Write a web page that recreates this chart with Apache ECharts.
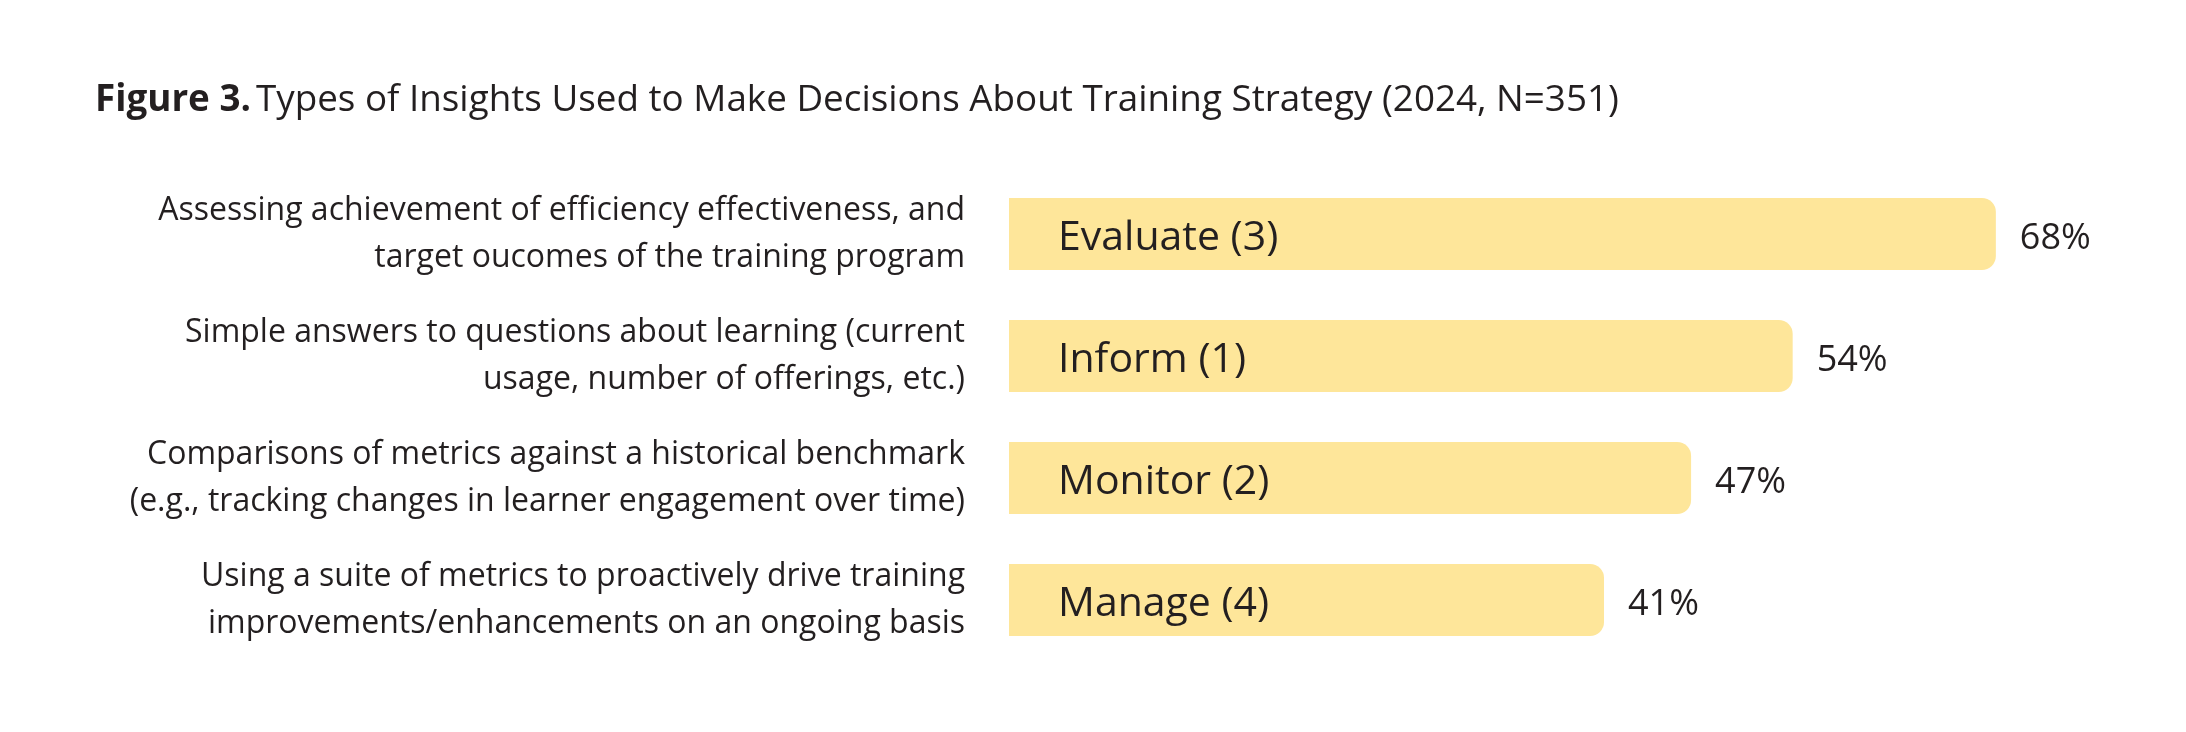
<!DOCTYPE html>
<html>
<head>
<meta charset="utf-8">
<script src="https://cdn.jsdelivr.net/npm/echarts@6/dist/echarts.min.js"></script>
<style>
html,body{margin:0;padding:0;background:#fff;}
#chart{width:2186px;height:732px;}
</style>
</head>
<body>
<div id="chart"></div>
<script>
var categories = [
  "Assessing achievement of efficiency effectiveness, and\ntarget oucomes of the training program",
  "Simple answers to questions about learning (current\nusage, number of offerings, etc.)",
  "Comparisons of metrics against a historical benchmark\n(e.g., tracking changes in learner engagement over time)",
  "Using a suite of metrics to proactively drive training\nimprovements/enhancements on an ongoing basis"
];
var barNames = ["Evaluate (3)", "Inform (1)", "Monitor (2)", "Manage (4)"];
var values = [68, 54, 47, 41];

var FONT = "Open Sans";
var TXT = "#231f20";
var chart = echarts.init(document.getElementById('chart'));
chart.setOption({
  backgroundColor: '#ffffff',
  animation: false,
  title: {
    left: 90, top: 77,
    text: '{b|Figure 3.} {n|Types of Insights Used to Make Decisions About Training Strategy (2024, N=351)}',
    textStyle: {
      rich: {
        b: {fontFamily: FONT, fontWeight: 'bold', fontSize: 36.8, color: TXT},
        n: {fontFamily: FONT, fontWeight: 'normal', fontSize: 36.8, color: TXT}
      }
    }
  },
  grid: {left: 1009, right: 16, top: 173, bottom: 71},
  xAxis: {type: 'value', min: 0, max: 80, show: false},
  yAxis: {
    type: 'category', data: categories, inverse: true,
    axisLine: {show: false}, axisTick: {show: false},
    axisLabel: {
      margin: 44, align: 'right', fontFamily: FONT, fontSize: 32,
      lineHeight: 47, color: TXT, padding: [6, 0, 0, 0]
    }
  },
  series: [
    {
      type: 'bar', data: values, barWidth: 72,
      itemStyle: {color: '#fee69a', borderRadius: [0, 14, 14, 0]},
      label: {
        show: true, position: 'insideLeft', distance: 49, offset: [0, 4],
        formatter: function (p) { return barNames[p.dataIndex]; },
        fontFamily: FONT, fontSize: 41, fontWeight: 500, color: TXT
      }
    },
    {
      type: 'bar', data: values, barWidth: 72, barGap: '-100%',
      itemStyle: {color: 'rgba(0,0,0,0)'},
      label: {
        show: true, position: 'right', distance: 24, offset: [0, 5],
        formatter: '{c}%',
        fontFamily: FONT, fontSize: 36, color: TXT
      },
      silent: true
    }
  ]
});
</script>
</body>
</html>
